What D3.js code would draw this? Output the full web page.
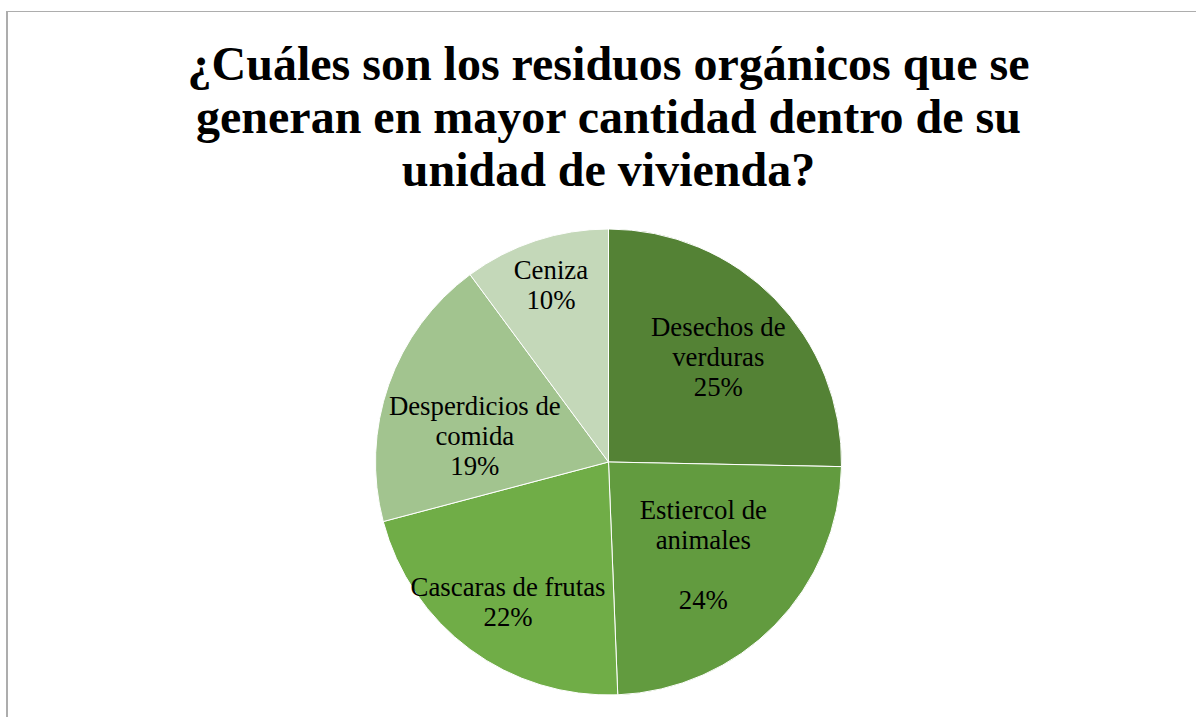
<!DOCTYPE html>
<html>
<head>
<meta charset="utf-8">
<script src="https://cdn.jsdelivr.net/npm/d3@7"></script>
<style>
  body { margin: 0; background: #fff; }
  svg { display: block; }
  text { font-family: 'Liberation Serif', 'Times New Roman', serif; }
</style>
</head>
<body>
<script>
// data (counts; the labels show the rounded share)
const categories = ["Desechos de verduras", "Estiercol de animales", "Cascaras de frutas", "Desperdicios de comida", "Ceniza"];
const counts = [20, 19, 17, 15, 8];
const labelLines = [
  ["Desechos de", "verduras"],
  ["Estiercol de", "animales", ""],
  ["Cascaras de frutas"],
  ["Desperdicios de", "comida"],
  ["Ceniza"]
];
const colors = ["#548235", "#629b3f", "#70ad47", "#a2c48f", "#c4d8b9"];
const titleLines = [
  "¿Cuáles son los residuos orgánicos que se",
  "generan en mayor cantidad dentro de su",
  "unidad de vivienda?"
];

const WIDTH = 1196;
const HEIGHT = 717;
const CX = 608.5, CY = 462, R = 233;
// label placement: share of the radius, then a small nudge
const labelRadius = [0.63, 0.57, 0.74, 0.59, 0.79];
const labelNudge = [[5, -2], [0, 0], [2, 1], [-4, 20], [0, -2]];

const svg = d3.select('body')
  .append('svg')
  .attr('width', WIDTH)
  .attr('height', HEIGHT);

// chart border
svg.append('line')
  .attr('x1', 7).attr('x2', 7).attr('y1', 11).attr('y2', HEIGHT)
  .attr('stroke', '#adadad').attr('stroke-width', 2);
svg.append('line')
  .attr('x1', 6).attr('x2', WIDTH).attr('y1', 11.5).attr('y2', 11.5)
  .attr('stroke', '#adadad').attr('stroke-width', 1);

// title
svg.append('text')
  .attr('x', CX)
  .attr('text-anchor', 'middle')
  .attr('font-weight', 'bold')
  .attr('font-size', '48px')
  .selectAll('tspan')
  .data(titleLines)
  .enter()
  .append('tspan')
  .attr('x', CX)
  .attr('y', (d, i) => 80 + i * 53)
  .text(d => d);

const total = d3.sum(counts);
const pie = d3.pie().sort(null).value(d => d);
const arcs = pie(counts);
const arc = d3.arc().innerRadius(0).outerRadius(R);

const g = svg.append('g')
  .attr('transform', 'translate(' + CX + ',' + CY + ')');

g.selectAll('path')
  .data(arcs)
  .enter()
  .append('path')
  .attr('d', arc)
  .attr('fill', (d, i) => colors[i])
  .attr('stroke', '#ffffff')
  .attr('stroke-width', 1);

const labels = g.selectAll('text.label')
  .data(arcs)
  .enter()
  .append('text')
  .attr('class', 'label')
  .attr('text-anchor', 'middle')
  .attr('font-size', '26.8px')
  .attr('fill', '#000')
  .each(function(d, i) {
    const r = R * labelRadius[i];
    const c = d3.arc().innerRadius(r).outerRadius(r).centroid(d);
    const x = c[0] + labelNudge[i][0];
    const lines = labelLines[i].concat([Math.round(d.data / total * 100) + '%']);
    const lh = 30;
    const y0 = c[1] + labelNudge[i][1] - (lines.length - 1) * lh / 2 + 9;
    d3.select(this).selectAll('tspan')
      .data(lines)
      .enter()
      .append('tspan')
      .attr('x', x)
      .attr('y', (t, j) => y0 + j * lh)
      .text(t => t);
  });
</script>
</body>
</html>
